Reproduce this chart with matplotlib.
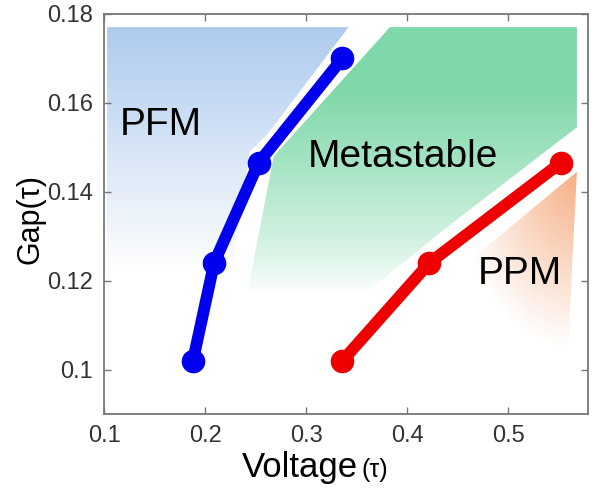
import numpy as np
import matplotlib
matplotlib.use('Agg')
import matplotlib.pyplot as plt
from matplotlib.colors import LinearSegmentedColormap
from matplotlib.patches import Polygon

plt.rcParams['font.family'] = ['Liberation Sans', 'DejaVu Sans']

# phase boundaries
blue_v = [0.188, 0.209, 0.253, 0.336]
blue_g = [0.102, 0.124, 0.1465, 0.170]
red_v = [0.336, 0.422, 0.552]
red_g = [0.102, 0.124, 0.1465]

# shaded regions
pfm_poly = [(0.103, 0.177), (0.342, 0.177), (0.262, 0.153), (0.244, 0.149),
            (0.226, 0.122), (0.205, 0.095), (0.103, 0.095)]
meta_poly = [(0.383, 0.177), (0.568, 0.177), (0.568, 0.1545), (0.445, 0.133),
             (0.33, 0.112), (0.30, 0.095), (0.228, 0.095), (0.246, 0.122),
             (0.268, 0.148)]
ppm_poly = [(0.568, 0.1445), (0.559, 0.104), (0.44, 0.113), (0.47, 0.126)]

fig = plt.figure(figsize=(5.92, 4.93), dpi=100)
ax = fig.add_axes([0.1757, 0.160, 0.8176, 0.812])
xlim = (0.1, 0.579)
ylim = (0.09, 0.18)

gx = np.linspace(xlim[0], xlim[1], 300)
gy = np.linspace(ylim[0], ylim[1], 300)
X, Y = np.meshgrid(gx, gy)


def shade(poly, color, vals):
    cmap = LinearSegmentedColormap.from_list('c', ['#ffffff', color])
    patch = Polygon(poly, closed=True, facecolor='none', edgecolor='none')
    ax.add_patch(patch)
    im = ax.imshow(vals, extent=(xlim[0], xlim[1], ylim[0], ylim[1]),
                   origin='lower', cmap=cmap, vmin=0, vmax=1, aspect='auto',
                   interpolation='bilinear', zorder=1)
    im.set_clip_path(patch)


shade(pfm_poly, '#aecbee', np.clip((Y - 0.122) / (0.177 - 0.122), 0, 1))
shade(meta_poly, '#7fd8a9', np.clip((Y - 0.117) / (0.163 - 0.117), 0, 1) ** 0.8)
d = np.hypot((X - 0.568) / 0.12, (Y - 0.1445) / 0.04)
shade(ppm_poly, '#f6ae84', np.clip(1 - d, 0, 1))

ax.plot(blue_v, blue_g, color='#0000ee', lw=8.5, marker='o', ms=16,
        solid_capstyle='round', zorder=3)
ax.plot(red_v, red_g, color='#ee0000', lw=8.5, marker='o', ms=16,
        solid_capstyle='round', zorder=3)

ax.text(0.116, 0.155, 'PFM', fontsize=28, ha='left', va='center', zorder=4)
ax.text(0.302, 0.1477, 'Metastable', fontsize=28, ha='left', va='center', zorder=4)
ax.text(0.470, 0.1215, 'PPM', fontsize=28, ha='left', va='center', zorder=4)

ax.set_xlim(*xlim)
ax.set_ylim(*ylim)
ax.set_xticks([0.1, 0.2, 0.3, 0.4, 0.5])
ax.set_xticklabels(['0.1', '0.2', '0.3', '0.4', '0.5'])
ax.set_yticks([0.1, 0.12, 0.14, 0.16, 0.18])
ax.set_yticklabels(['0.1', '0.12', '0.14', '0.16', '0.18'])
ax.tick_params(direction='in', top=True, right=True, length=5, width=1,
               color='#777777', labelsize=17, labelcolor='#333333', pad=8)
for s in ax.spines.values():
    s.set_color('#777777')
    s.set_linewidth(1.3)

fig.text(0.605, 0.033, 'Voltage', fontsize=25, ha='right', va='baseline')
fig.text(0.611, 0.033, '(τ)', fontsize=18, ha='left', va='baseline')
fig.text(0.052, 0.555, 'Gap(τ)', fontsize=22, rotation=90, ha='center', va='center')

fig.savefig('out.png', dpi=100)
